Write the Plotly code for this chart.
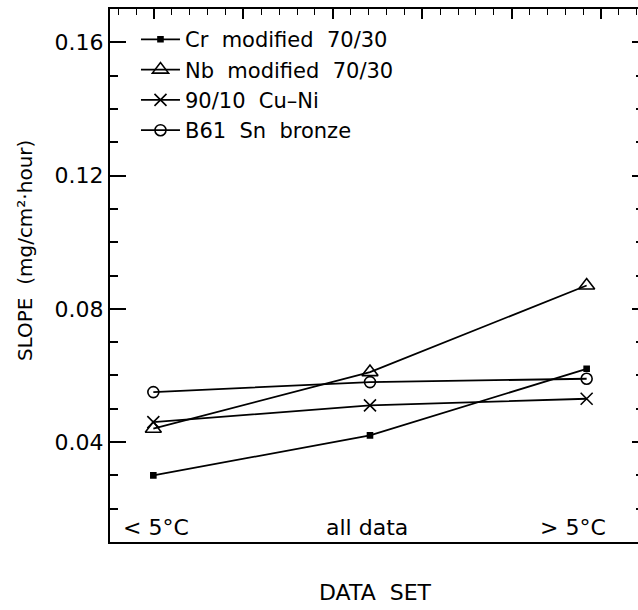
import html
import plotly.graph_objects as go

# ---- data -------------------------------------------------------------
categories = ["< 5°C", "all data", "> 5°C"]
x_index = [0, 1, 2]
cr_mod = [0.030, 0.042, 0.062]
nb_mod = [0.044, 0.061, 0.087]
cu_ni = [0.046, 0.051, 0.053]
b61_sn = [0.055, 0.058, 0.059]
series_names = ["Cr  modified  70/30", "Nb  modified  70/30", "90/10  Cu–Ni", "B61  Sn  bronze"]
y_ticks = [0.04, 0.08, 0.12, 0.16]
y_tick_text = ["0.04", "0.08", "0.12", "0.16"]

FONT = "DejaVu Sans, sans-serif"
BLACK = "#000000"
NB = "\u00a0"


def nbsp(s):
    return html.escape(s).replace(" ", NB)


fig = go.Figure()
series = [cr_mod, nb_mod, cu_ni, b61_sn]
symbols = ["square", "triangle-up-open", "x-thin-open", "circle-open"]
sizes = [5, 14, 12, 11]
for name, vals, sym, sz in zip(series_names, series, symbols, sizes):
    fig.add_trace(go.Scatter(
        x=x_index, y=vals, name=nbsp(name), mode="lines+markers",
        line=dict(color=BLACK, width=1.8),
        marker=dict(symbol=sym, size=sz, color=BLACK,
                    line=dict(color=BLACK, width=1.6)),
    ))

# invisible helper trace for the top and right tick axes
fig.add_trace(go.Scatter(x=[0], y=[0.1], xaxis="x2", yaxis="y2",
                         mode="markers", marker=dict(opacity=0),
                         showlegend=False, hoverinfo="skip"))

fig.update_layout(
    width=638, height=610,
    margin=dict(l=110, r=0, t=9, b=68),
    paper_bgcolor="white", plot_bgcolor="white",
    font=dict(family=FONT, size=22, color=BLACK),
    showlegend=True,
    legend=dict(x=0.0492, y=0.981, xanchor="left", yanchor="top",
                bgcolor="rgba(0,0,0,0)", font=dict(size=21),
                itemwidth=39, tracegroupgap=0),
    xaxis=dict(range=[-0.2, 2.237], showgrid=False, zeroline=False,
               showline=True, linecolor=BLACK, linewidth=2,
               ticks="", showticklabels=False, mirror=False),
    yaxis=dict(range=[0.01, 0.17], showgrid=False, zeroline=False,
               showline=True, linecolor=BLACK, linewidth=2,
               tickmode="array", tickvals=y_ticks, ticktext=y_tick_text,
               ticks="inside", ticklen=16, tickwidth=2, tickcolor=BLACK,
               minor=dict(dtick=0.01, tick0=0.0, ticks="inside", ticklen=8,
                          tickwidth=1.5, tickcolor=BLACK, showgrid=False),
               tickfont=dict(size=22)),
    xaxis2=dict(overlaying="x", side="top", range=[0, 528],
                showgrid=False, zeroline=False, showline=True,
                linecolor=BLACK, linewidth=2, showticklabels=False,
                ticks="inside", tick0=44, dtick=89.4, ticklen=10,
                tickwidth=1.5, tickcolor=BLACK,
                minor=dict(tick0=8.3, dtick=17.88, ticks="inside", ticklen=6,
                           tickwidth=1.2, tickcolor=BLACK, showgrid=False)),
    yaxis2=dict(overlaying="y", side="right", range=[0.01, 0.17],
                showgrid=False, zeroline=False, showline=False,
                showticklabels=False, tickmode="array", tickvals=y_ticks,
                ticks="inside", ticklen=6, tickwidth=2, tickcolor=BLACK,
                minor=dict(dtick=0.01, tick0=0.0, ticks="inside", ticklen=2,
                           tickwidth=1.5, tickcolor=BLACK, showgrid=False)),
)

# category labels inside the plot, along the bottom
shifts = [3, -3, -14]
for xi, lab, sh in zip(x_index, categories, shifts):
    fig.add_annotation(x=xi, y=0.0145, xref="x", yref="y", text=nbsp(lab),
                       showarrow=False, xanchor="center", yanchor="middle",
                       xshift=sh, font=dict(size=22, family=FONT))

# axis titles
fig.add_annotation(x=-0.161, y=0.5476, xref="paper", yref="paper",
                   text=nbsp("SLOPE  (mg/cm²·hour)"), textangle=-90, showarrow=False,
                   xanchor="center", yanchor="middle", font=dict(size=20, family=FONT))
fig.add_annotation(x=0.502, y=-0.095, xref="paper", yref="paper",
                   text=nbsp("DATA  SET"), showarrow=False,
                   xanchor="center", yanchor="middle", font=dict(size=22, family=FONT))

fig.write_html("out.html")
